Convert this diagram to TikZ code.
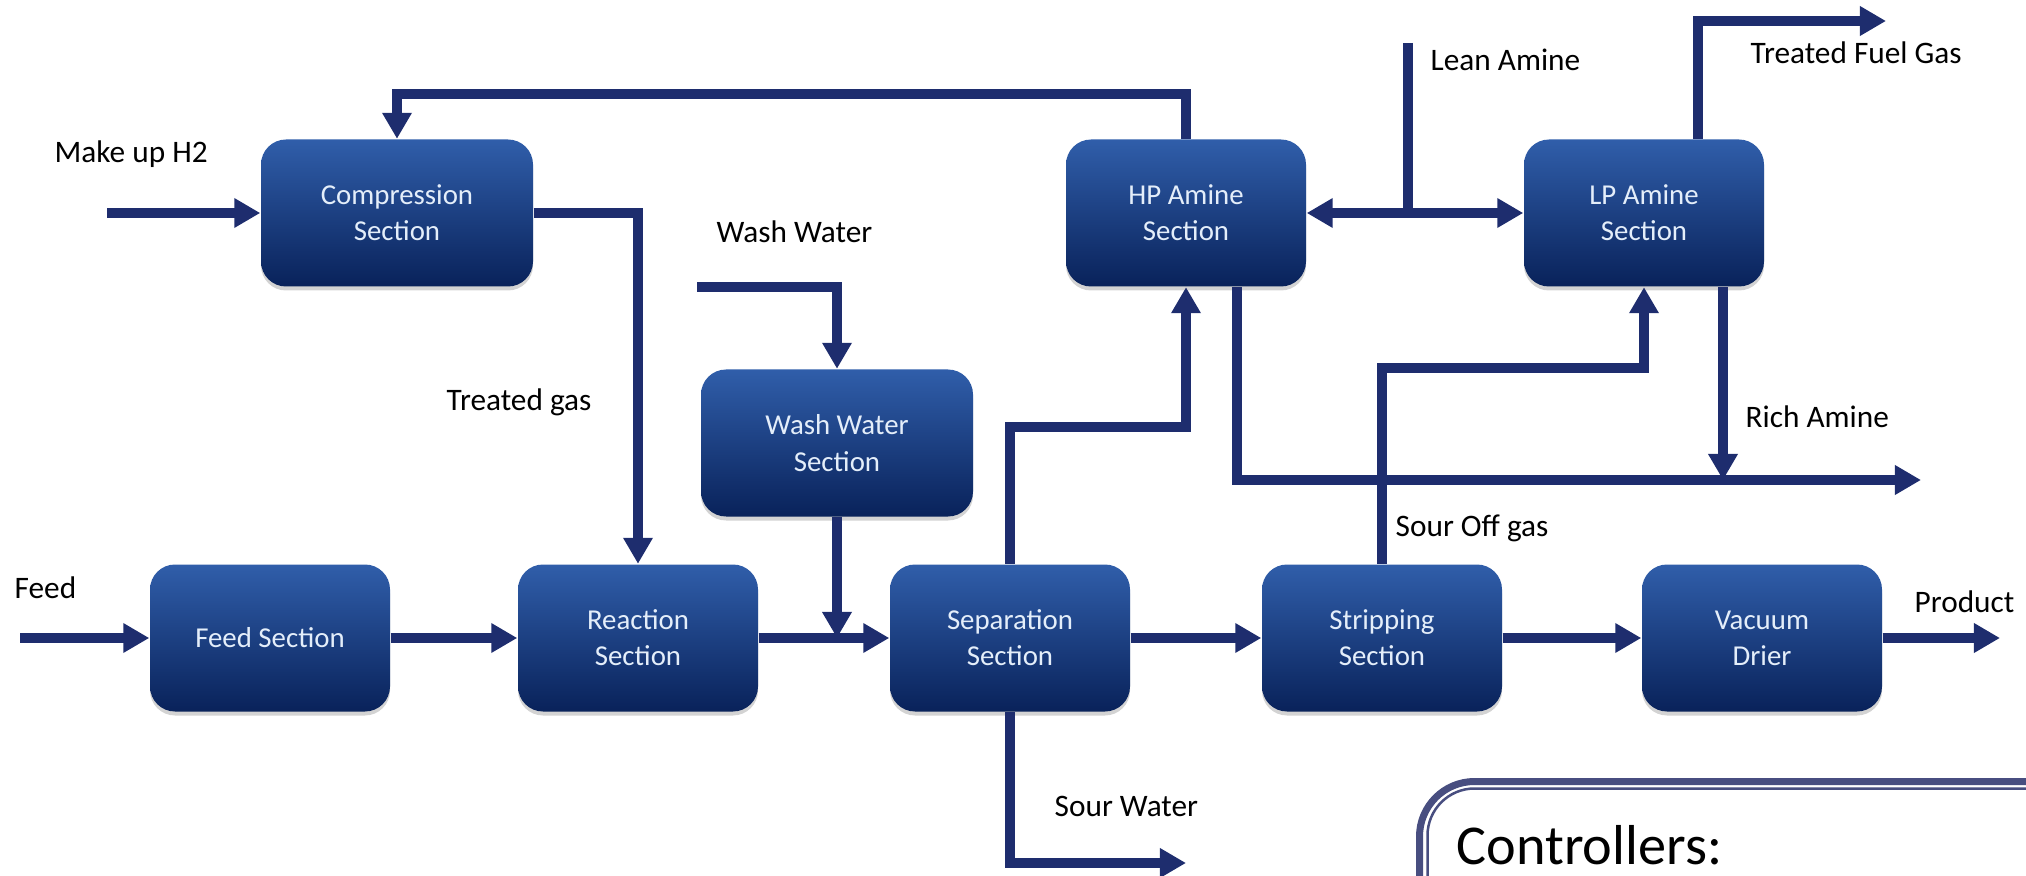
\documentclass[tikz,border=0pt]{standalone}
\usepackage{fontspec}
\setmainfont{Carlito}
\usetikzlibrary{arrows.meta,shadows}

\newlength{\du}
\setlength{\du}{0.01cm}

\begin{document}
\begin{tikzpicture}[x=1\du,y=-1\du,
  unitbox/.style={rectangle, rounded corners=25\du, draw=none,
    top color=boxtop, bottom color=boxbottom, text=boxtext,
    minimum width=240\du, minimum height=147\du, inner sep=0pt,
    align=center, font=\fontsize{8.2}{10.3}\selectfont,
    drop shadow={shadow xshift=0pt, shadow yshift=-4\du, opacity=0.35}},
  widebox/.style={unitbox, minimum width=272\du},
  streamlabel/.style={anchor=base west, inner sep=0pt, font=\fontsize{8.9}{10}\selectfont},
  pipe/.style={draw=flowcolor, line width=10\du, miter limit=4},
  flow/.style={pipe, -{Triangle[length=0.26cm,width=0.28cm]}},
  flowboth/.style={pipe, {Triangle[length=0.26cm,width=0.28cm]}-{Triangle[length=0.26cm,width=0.28cm]}}]
\definecolor{boxtop}{RGB}{48,94,170}
\definecolor{boxbottom}{RGB}{9,34,90}
\definecolor{boxtext}{RGB}{228,238,250}
\definecolor{flowcolor}{RGB}{30,45,110}
\definecolor{framecolor}{RGB}{72,78,128}
\clip (0,0) rectangle (2026,876);

% units
\node[widebox] (comp) at (397,213) {Compression\\Section};
\node[unitbox] (hp) at (1186,213) {HP Amine\\Section};
\node[unitbox] (lp) at (1644,213) {LP Amine\\Section};
\node[widebox] (wash) at (837,443) {Wash Water\\Section};
\node[unitbox] (feed) at (270,638) {Feed Section};
\node[unitbox] (react) at (638,638) {Reaction\\Section};
\node[unitbox] (sep) at (1010,638) {Separation\\Section};
\node[unitbox] (strip) at (1382,638) {Stripping\\Section};
\node[unitbox] (vac) at (1762,638) {Vacuum\\Drier};

% free ends
\coordinate (makeup) at (107,213);
\coordinate (recycle) at (397,94);
\coordinate (washin) at (697,287);
\coordinate (feedin) at (20,638);
\coordinate (prodout) at (2000,638);
\coordinate (sepup) at (1186,427);
\coordinate (richout) at (1921,480);
\coordinate (lprich) at ([xshift=79\du]lp.south);
\coordinate (stripup) at (1644,368);
\coordinate (sourout) at (1186,863);
\coordinate (leantop) at (1408,43);
\coordinate (leanjoin) at (1408,213);
\coordinate (fuelout) at (1886,21);

% streams
\draw[flow] (makeup) -- (comp.west);
\draw[flow] (hp.north) |- (recycle) -- (comp.north);
\draw[flow] (comp.east) -| (react.north);
\draw[flow] (washin) -| (wash.north);
\draw[flow] (wash.south) -- (wash.south |- sep.west);
\draw[flow] (feedin) -- (feed.west);
\draw[flow] (feed.east) -- (react.west);
\draw[flow] (react.east) -- (sep.west);
\draw[flow] (sep.east) -- (strip.west);
\draw[flow] (strip.east) -- (vac.west);
\draw[flow] (vac.east) -- (prodout);
\draw[flow] (sep.north) |- (sepup) -- (hp.south);
\draw[flow] ([xshift=51\du]hp.south) |- (richout);
\draw[flow] (lprich) -- (lprich |- richout);
\draw[flow] (strip.north) |- (stripup) -- (lp.south);
\draw[flow] (sep.south) |- (sourout);
\draw[pipe] (leantop) -- (leanjoin);
\draw[flowboth] (hp.east) -- (lp.west);
\draw[flow] ([xshift=54\du]lp.north) |- (fuelout);

% labels
\node[streamlabel] (lmakeup) at (54,163) {Make up H2};
\node[streamlabel] (ltreated) at (446,411) {Treated gas};
\node[streamlabel] (lwash) at (716,243) {Wash Water};
\node[streamlabel] (llean) at (1430,71) {Lean Amine};
\node[streamlabel] (lfuel) at (1750,64) {Treated Fuel Gas};
\node[streamlabel] (lrich) at (1745,428) {Rich Amine};
\node[streamlabel] (lsourgas) at (1395,536) {Sour Off gas};
\node[streamlabel] (lfeed) at (14,598) {Feed};
\node[streamlabel] (lprod) at (1914,612) {Product};
\node[streamlabel] (lsourwater) at (1054,816) {Sour Water};

% controllers panel
\draw[framecolor, line width=7\du, rounded corners=55\du] (1419.5,781.5) rectangle (2200,1050);
\draw[framecolor, line width=2.5\du, rounded corners=47\du] (1427.5,788.5) rectangle (2200,1050);
\node[anchor=base west, inner sep=0pt, font=\fontsize{16}{18}\selectfont] (ctrl) at (1456,864) {Controllers:};
\end{tikzpicture}
\end{document}
